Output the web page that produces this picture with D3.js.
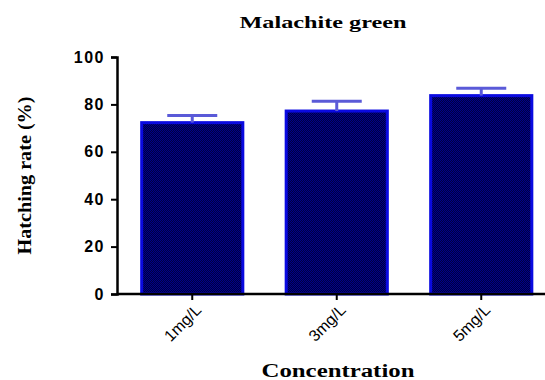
<!DOCTYPE html>
<html>
<head>
<meta charset="utf-8">
<script src="https://cdn.jsdelivr.net/npm/d3@7"></script>
<style>
  body { margin: 0; background: #fff; }
  svg { display: block; }
</style>
</head>
<body>
<div id="chart"></div>
<script>
// hatching rate per malachite green concentration
const categories = ["1mg/L", "3mg/L", "5mg/L"];
const rates = [72.3, 77.2, 83.7];
const errors = [3.0, 4.1, 3.1];
const yTicks = [0, 20, 40, 60, 80, 100];

const W = 545, H = 380;
const margin = ({ top: 57, right: 0, bottom: 86, left: 117 });

let svg = d3.select("#chart").append("svg")
    .attr("width", W)
    .attr("height", H);

// dotted navy fill like the prism export
let defs = svg.append("defs");
let pat = defs.append("pattern")
    .attr("id", "dots")
    .attr("width", 2).attr("height", 2)
    .attr("patternUnits", "userSpaceOnUse");
pat.append("rect").attr("width", 2).attr("height", 2).attr("fill", "#000040");
pat.append("rect").attr("width", 1).attr("height", 1).attr("fill", "#00008a");
pat.append("rect").attr("x", 1).attr("y", 1).attr("width", 1).attr("height", 1).attr("fill", "#00008a");

let yScale = d3.scaleLinear()
    .domain([0, 100])
    .range([H - margin.bottom, margin.top]);

let xScale = d3.scaleBand()
    .domain(categories)
    .range([120, 553.5])
    .paddingInner(0.3)
    .paddingOuter(0.15);

// bars
svg.selectAll(".bar")
    .data(categories)
    .join("rect")
    .attr("class", "bar")
    .attr("x", d => xScale(d))
    .attr("y", (d, i) => yScale(rates[i]))
    .attr("width", xScale.bandwidth())
    .attr("height", (d, i) => yScale(0) - yScale(rates[i]))
    .attr("fill", "url(#dots)")
    .attr("stroke", "#0a0ae0")
    .attr("stroke-width", 3);

// error bars (upper half only)
let eb = svg.append("g")
    .attr("stroke", "#5a5ad8")
    .attr("stroke-width", 3);
categories.forEach((c, i) => {
    let cx = xScale(c) + xScale.bandwidth() / 2;
    eb.append("line")
        .attr("x1", cx).attr("x2", cx)
        .attr("y1", yScale(rates[i])).attr("y2", yScale(rates[i] + errors[i]));
    eb.append("line")
        .attr("x1", cx - 25).attr("x2", cx + 25)
        .attr("y1", yScale(rates[i] + errors[i])).attr("y2", yScale(rates[i] + errors[i]));
});

// y axis
let yAxis = d3.axisLeft(yScale)
    .tickValues(yTicks)
    .tickSize(6)
    .tickPadding(6);

let gy = svg.append("g")
    .attr("transform", `translate(${margin.left},0)`)
    .call(yAxis);
gy.select(".domain").attr("stroke", "#000").attr("stroke-width", 2.5);
gy.selectAll(".tick line").attr("stroke", "#000").attr("stroke-width", 2);
gy.selectAll(".tick text")
    .attr("fill", "#000")
    .style("font-family", "'Liberation Sans', Arial, sans-serif")
    .style("font-weight", "bold")
    .style("font-size", "16px")
    .style("letter-spacing", "1.5px");

// x axis
let xAxis = d3.axisBottom(xScale)
    .tickSize(6)
    .tickSizeOuter(0);

let gx = svg.append("g")
    .attr("transform", `translate(0,${H - margin.bottom})`)
    .call(xAxis);
gx.select(".domain").attr("stroke", "#000").attr("stroke-width", 2.5)
    .attr("d", `M${margin.left},0H${W}`);
gx.selectAll(".tick line").attr("stroke", "#000").attr("stroke-width", 2);
gx.selectAll(".tick text")
    .attr("fill", "#000")
    .attr("text-anchor", "end")
    .attr("dy", null)
    .attr("y", 0)
    .attr("transform", "translate(10,17) rotate(-45)")
    .style("font-family", "'Liberation Sans', Arial, sans-serif")
    .style("font-size", "16px");

// title
svg.append("text")
    .attr("x", 323)
    .attr("y", 28)
    .attr("text-anchor", "middle")
    .attr("textLength", 167)
    .attr("lengthAdjust", "spacingAndGlyphs")
    .style("font-family", "'Liberation Serif', 'Times New Roman', serif")
    .style("font-weight", "bold")
    .style("font-size", "16px")
    .text("Malachite green");

// y label
svg.append("text")
    .attr("transform", `translate(31,${yScale(50)}) rotate(-90)`)
    .attr("text-anchor", "middle")
    .attr("textLength", 158)
    .attr("lengthAdjust", "spacingAndGlyphs")
    .style("font-family", "'Liberation Serif', 'Times New Roman', serif")
    .style("font-weight", "bold")
    .style("font-size", "18px")
    .text("Hatching rate (%)");

// x label
svg.append("text")
    .attr("x", 338)
    .attr("y", 377)
    .attr("text-anchor", "middle")
    .attr("textLength", 153)
    .attr("lengthAdjust", "spacingAndGlyphs")
    .style("font-family", "'Liberation Serif', 'Times New Roman', serif")
    .style("font-weight", "bold")
    .style("font-size", "18px")
    .text("Concentration");
</script>
</body>
</html>
